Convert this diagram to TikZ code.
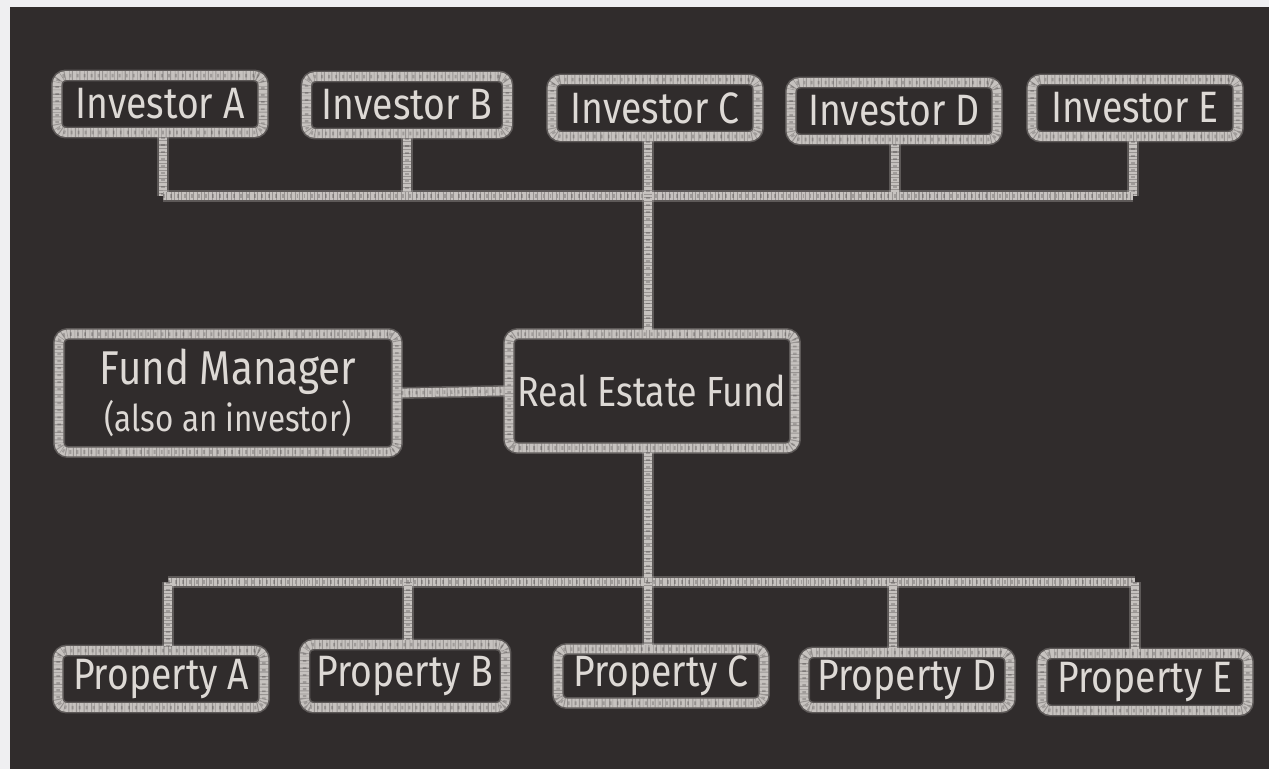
\documentclass[tikz,border=0pt]{standalone}
\usepackage{fontspec}
\usepackage{tikz}
\newfontfamily\chalkfont[FakeStretch=0.85]{Fira Sans}
\definecolor{paper}{HTML}{EFEFF1}
\definecolor{board}{HTML}{302C2C}
\definecolor{chalkgray}{HTML}{C6C2BF}
\definecolor{chalktext}{HTML}{DDD9D5}

\begin{document}
\begin{tikzpicture}[x=0.02cm, y=-0.02cm,
    chalk/.style={draw=chalkgray, line width=5pt,
        preaction={draw=chalkgray, line width=6.8pt, opacity=0.3},
        postaction={draw=board, line width=5pt, opacity=0.3, dash pattern=on 0.6pt off 1.3pt on 0.3pt off 2.1pt},
        postaction={draw=board, line width=2pt, opacity=0.25, dash pattern=on 1.1pt off 2.9pt}},
    card/.style={chalk, rounded corners=5pt, minimum width=4.12cm, minimum height=1.14cm,
        inner sep=0pt, text=chalktext, font=\chalkfont\fontsize{25}{30}\selectfont},
    bigcard/.style={card, align=center},
    link/.style={chalk}]
    % Board and paper edge
    \useasboundingbox (0,0) rectangle (1269,769);
    \fill[paper] (0,0) rectangle (1269,769);
    \fill[board] (10,7) rectangle (1269,769);

    % Investors
    \node[card] (invA) at (160,104) {Investor A};
    \node[card, minimum width=4.02cm] (invB) at (407,105) {Investor B};
    \node[card] (invC) at (655,108) {Investor C};
    \node[card] (invD) at (894,111) {Investor D};
    \node[card] (invE) at (1135,108) {Investor E};

    % Fund and manager
    \node[bigcard, minimum width=6.76cm, minimum height=2.36cm] (manager) at (228,393)
        {{\fontsize{27}{34}\selectfont Fund Manager}\\[-3pt]{\fontsize{21}{26}\selectfont (also an investor)}};
    \node[bigcard, minimum width=5.72cm, minimum height=2.28cm,
        font=\chalkfont\fontsize{24}{30}\selectfont] (fund) at (652,391) {Real Estate Fund};

    % Properties
    \node[card] (propA) at (161,679) {Property A};
    \node[card, minimum width=4.02cm, minimum height=1.26cm] (propB) at (405,676) {Property B};
    \node[card, minimum height=1.08cm] (propC) at (661,676) {Property C};
    \node[card, minimum height=1.1cm] (propD) at (907,680) {Property D};
    \node[card] (propE) at (1145,682) {Property E};

    % Investor bus
    \coordinate (topbus) at (648,196);
    \foreach \n/\x in {invA/163, invB/407, invD/895, invE/1133}
        \draw[link] (\x,0 |- \n.south) -- (\x,0 |- topbus);
    \draw[link] (163,0 |- topbus) -- (1133,0 |- topbus);
    \draw[link] (648,0 |- invC.south) -- (648,0 |- fund.north);

    % Manager to fund
    \draw[link] (manager.east) -- (fund.west);

    % Property bus
    \coordinate (botbus) at (648,582);
    \draw[link] (648,0 |- fund.south) -- (botbus);
    \draw[link] (168,0 |- botbus) -- (1135,0 |- botbus);
    \foreach \n/\x in {propA/168, propB/408, propC/648, propD/893, propE/1135}
        \draw[link] (\x,0 |- botbus) -- (\x,0 |- \n.north);
\end{tikzpicture}
\end{document}
